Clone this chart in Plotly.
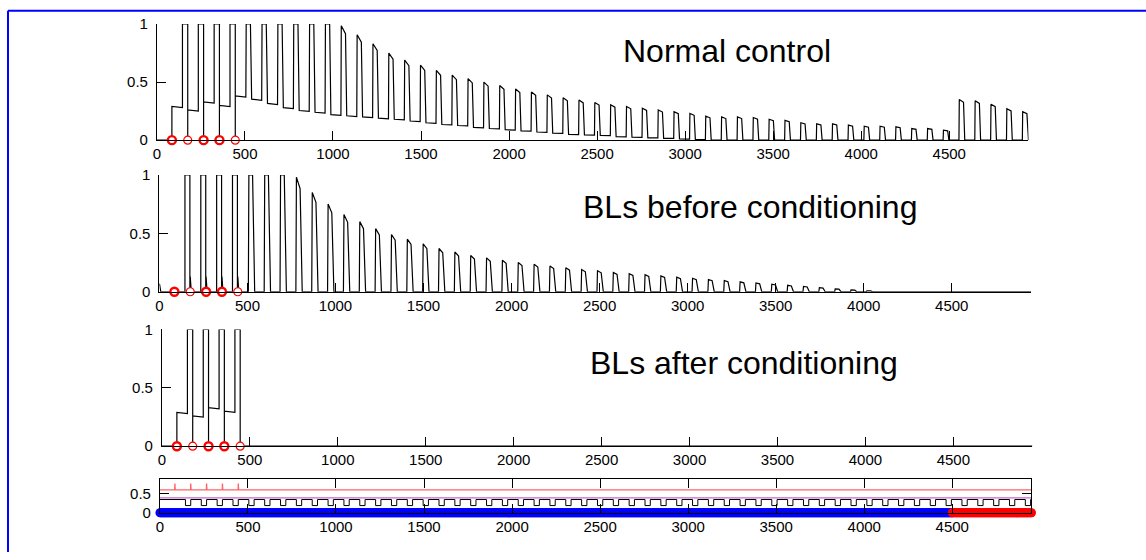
import numpy as np
import plotly.graph_objects as go

# ---- timing (ms) ----
X_MAX = 4950
PERIOD = 90
FIRST_ONSET = 145
N_CYCLES = 54
STIM_TIMES = [85, 175, 265, 355, 445]
STIM_BOLD = [True, False, True, True, False]
SWITCH_TIME = 4500
PHASE_STEP = 5  # sampling step of the phase bar

# ---- Normal control ----
# plateau level preceding each burst
nc_base = [0.29, 0.26, 0.33, 0.30, 0.38, 0.353, 0.316, 0.28, 0.255, 0.24,
           0.22, 0.21, 0.20, 0.19, 0.18, 0.165, 0.15, 0.135, 0.126, 0.11,
           0.10, 0.09, 0.08, 0.07, 0.06, 0.05, 0.045, 0.04, 0.03, 0.025,
           0.02, 0.015, 0.01, 0.005, 0.0, 0.0, 0.0, 0.0, 0.0, 0.0,
           0.0, 0.0, 0.0, 0.0, 0.0, 0.0, 0.0, 0.0, 0.0, 0.0,
           0.0, 0.0, 0.0, 0.0, 0.0]
# burst peak of each cycle
nc_peak = [1.0, 1.0, 1.0, 1.0, 1.0, 1.0, 1.0, 1.0, 1.0, 1.0,
           0.985, 0.908, 0.83, 0.75, 0.69, 0.645, 0.60, 0.56, 0.53, 0.50,
           0.47, 0.44, 0.415, 0.39, 0.365, 0.345, 0.325, 0.305, 0.29, 0.275,
           0.26, 0.245, 0.23, 0.207, 0.20, 0.20, 0.195, 0.18, 0.17, 0.15,
           0.14, 0.14, 0.13, 0.12, 0.12, 0.115, 0.10, 0.10, 0.086, 0.35,
           0.34, 0.31, 0.27, 0.245]

# ---- BLs before conditioning ----
blb_peak = [1.0, 1.0, 1.0, 1.0, 1.0, 1.0, 1.0, 0.98, 0.85, 0.75,
            0.66, 0.60, 0.54, 0.49, 0.45, 0.41, 0.37, 0.34, 0.31, 0.29,
            0.27, 0.25, 0.235, 0.22, 0.205, 0.19, 0.18, 0.165, 0.155, 0.145,
            0.135, 0.125, 0.115, 0.105, 0.095, 0.085, 0.075, 0.065, 0.055, 0.045,
            0.035, 0.025, 0.015, 0.008]
blb_stim_spike = 0.13
blb_start_level = 0.07

# ---- bottom panel traces ----
ref_level = 0.585
ref_spike = 0.75
mid_level = 0.38
pace_high = 0.34
pace_low = 0.185

onsets = [FIRST_ONSET + PERIOD * k for k in range(N_CYCLES)]


def priming(xs, ys, base):
    """Stimulus-paired bursts during the first 450 ms."""
    xs += [0, STIM_TIMES[0]]
    ys += [0, 0]
    for k in range(4):
        xs += [STIM_TIMES[k], onsets[k]]
        ys += [base[k], base[k] - 0.01]
        xs += [onsets[k], STIM_TIMES[k + 1], STIM_TIMES[k + 1]]
        ys += [1.0, 1.0, 0.0]
    return xs, ys


def clip_end(xs, ys):
    out_x, out_y = [], []
    for i, (x, y) in enumerate(zip(xs, ys)):
        if x <= X_MAX:
            out_x.append(x)
            out_y.append(y)
        else:
            x0, y0 = xs[i - 1], ys[i - 1]
            out_x.append(X_MAX)
            out_y.append(y0 + (y - y0) * (X_MAX - x0) / (x - x0))
            break
    return out_x, out_y


def normal_trace():
    xs, ys = priming([], [], nc_base)
    xs += [STIM_TIMES[4], onsets[4]]
    ys += [nc_base[4], nc_base[4] - 0.01]
    for k in range(4, N_CYCLES):
        s = onsets[k]
        p = nc_peak[k]
        p_end = p if p >= 0.99 else p * 0.93
        b = nc_base[k + 1]
        nxt = onsets[k + 1] if k + 1 < N_CYCLES else X_MAX + 60
        xs += [s, s + 2, s + 26, s + 33, nxt]
        ys += [nc_base[k] if k > 4 else nc_base[4] - 0.01, p, p_end, b, b * 0.97]
    return clip_end(xs, ys)


def before_trace():
    xs = [0, 8, 8]
    ys = [blb_start_level, 0, 0]
    for k in range(4):
        s = onsets[k]
        st = STIM_TIMES[k + 1]
        xs += [s, s, st - 2, st - 2, st, st, st + 6]
        ys += [0, 1.0, 1.0, 0, 0, blb_stim_spike, 0]
    for k in range(4, len(blb_peak)):
        s = onsets[k]
        p = blb_peak[k]
        p_end = p if p >= 0.99 else p * 0.9
        xs += [s, s + 3, s + 24, s + 30, s + 36]
        ys += [0, p, p_end, p_end * 0.3, 0]
    xs.append(X_MAX)
    ys.append(0)
    return xs, ys


def after_trace():
    xs, ys = priming([], [], nc_base)
    xs += [STIM_TIMES[4], X_MAX]
    ys += [0, 0]
    return xs, ys


def pacemaker_trace():
    xs, ys = [0], [pace_high]
    for s in onsets:
        xs += [s, s, s + 30, s + 30]
        ys += [pace_high, pace_low, pace_low, pace_high]
    xs.append(X_MAX)
    ys.append(pace_high)
    return clip_end(xs, ys)


def reference_trace():
    xs, ys = [0], [ref_level]
    for t in STIM_TIMES:
        xs += [t - 1, t, t + 2]
        ys += [ref_level, ref_spike, ref_level]
    xs.append(X_MAX)
    ys.append(ref_level)
    return xs, ys


W, H = 1146, 560
# screen pixel -> paper fraction (affine correction of the page render)
SX, OX = 0.997, 3.0
SY, OY = 0.9685, 8.3


def pxx(t):
    return ((t - OX) / SX) / W


def pxy(t):
    return 1 - ((t - OY) / SY) / H


def px_x(a, b):
    return [pxx(a), pxx(b)]


def px_y(top, bottom):
    return [pxy(bottom), pxy(top)]


fig = go.Figure()

panels = [
    dict(x=px_x(156, 1028), y=px_y(23.3, 139.3)),
    dict(x=px_x(158.5, 1030.5), y=px_y(174, 290.7)),
    dict(x=px_x(161, 1032), y=px_y(328.3, 445)),
    dict(x=px_x(159, 1031), y=px_y(477.3, 511.5)),
]

tick_font = dict(family="Liberation Sans, Arial, sans-serif", size=15, color="black")
x_ticks = list(range(0, 5000, 500))

for i, p in enumerate(panels, start=1):
    sfx = "" if i == 1 else str(i)
    last = i == 4
    fig.layout["xaxis" + sfx] = dict(
        domain=p["x"], range=[0, X_MAX], anchor="y" + sfx,
        tickvals=x_ticks, ticktext=[str(v) for v in x_ticks],
        ticks="inside", ticklen=9, tickwidth=1, tickcolor="black",
        showline=True, linecolor="black", linewidth=1,
        mirror="allticks" if last else False,
        showgrid=False, zeroline=False, tickfont=tick_font, fixedrange=True,
    )
    fig.layout["yaxis" + sfx] = dict(
        domain=p["y"], range=[0, 0.877] if last else [0, 1], anchor="x" + sfx,
        tickvals=[0, 0.5] if last else [0, 0.5, 1],
        ticktext=["0", "0.5"] if last else ["0", "0.5", "1"],
        ticks="inside", ticklen=9, tickwidth=1, tickcolor="black",
        showline=True, linecolor="black", linewidth=1,
        mirror="allticks" if last else False, ticklabelstandoff=5,
        showgrid=False, zeroline=False, tickfont=tick_font, fixedrange=True,
    )

black = dict(color="black", width=1.2)

x1, y1 = normal_trace()
fig.add_trace(go.Scatter(x=x1, y=y1, mode="lines", line=black, xaxis="x", yaxis="y"))
x2, y2 = before_trace()
fig.add_trace(go.Scatter(x=x2, y=y2, mode="lines", line=black, xaxis="x2", yaxis="y2"))
x3, y3 = after_trace()
fig.add_trace(go.Scatter(x=x3, y=y3, mode="lines", line=black, xaxis="x3", yaxis="y3"))

# stimulus markers on each trace panel
for sfx in ["", "2", "3"]:
    fig.add_trace(go.Scatter(
        x=STIM_TIMES, y=[0] * len(STIM_TIMES), mode="markers",
        marker=dict(symbol="circle", size=8, color="white",
                    line=dict(color="red", width=[2.4 if b else 1.2 for b in STIM_BOLD])),
        xaxis="x" + sfx, yaxis="y" + sfx, cliponaxis=False))

# bottom panel
xr, yr = reference_trace()
fig.add_trace(go.Scatter(x=xr, y=yr, mode="lines", line=dict(color="#ff6464", width=1.3),
                         xaxis="x4", yaxis="y4"))
fig.add_trace(go.Scatter(x=[0, X_MAX], y=[mid_level, mid_level], mode="lines",
                         line=dict(color="#cc66cc", width=1.3), xaxis="x4", yaxis="y4"))
xp, yp = pacemaker_trace()
fig.add_trace(go.Scatter(x=xp, y=yp, mode="lines", line=dict(color="black", width=1),
                         xaxis="x4", yaxis="y4"))

# phase bar: training (blue) then test (red), drawn as filled dots
train_t = np.arange(0, SWITCH_TIME + PHASE_STEP, PHASE_STEP)
test_t = np.arange(SWITCH_TIME, X_MAX + PHASE_STEP, PHASE_STEP)
fig.add_trace(go.Scatter(x=train_t, y=np.zeros(len(train_t)), mode="markers",
                         marker=dict(color="#0000ff", size=9, line=dict(width=0)),
                         xaxis="x4", yaxis="y4", cliponaxis=False))
fig.add_trace(go.Scatter(x=test_t, y=np.zeros(len(test_t)), mode="markers",
                         marker=dict(color="#ff0000", size=9, line=dict(width=0)),
                         xaxis="x4", yaxis="y4", cliponaxis=False))

label_font = dict(family="Liberation Sans, Arial, sans-serif", size=32, color="black")
for text, cx, cy in [("Normal control", 726, 50),
                     ("BLs before conditioning", 749, 206),
                     ("BLs after conditioning", 743, 362)]:
    fig.add_annotation(text=text, x=pxx(cx), y=pxy(cy), xref="paper", yref="paper",
                       xanchor="center", yanchor="middle", showarrow=False, font=label_font)

# frame
fig.add_shape(type="line", xref="paper", yref="paper", x0=pxx(7), x1=1.0, y0=pxy(10), y1=pxy(10),
              line=dict(color="#0000ff", width=2))
fig.add_shape(type="line", xref="paper", yref="paper", x0=pxx(7), x1=pxx(7), y0=0, y1=pxy(10),
              line=dict(color="#0000ff", width=2))

fig.update_layout(
    width=W, height=H, autosize=False,
    margin=dict(l=0, r=0, t=0, b=0),
    paper_bgcolor="white", plot_bgcolor="white",
    showlegend=False,
)

fig.write_html("out.html", config={"displayModeBar": False})
